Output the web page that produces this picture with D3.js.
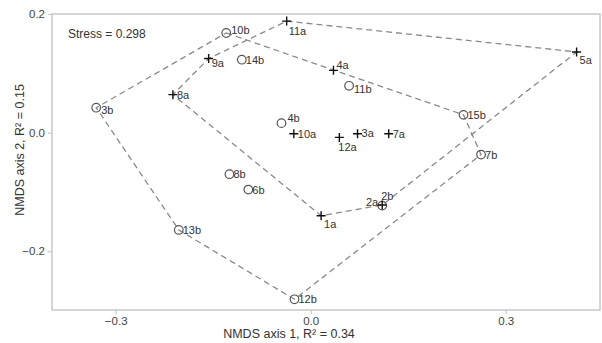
<!DOCTYPE html>
<html>
<head>
<meta charset="utf-8">
<script src="https://cdn.jsdelivr.net/npm/d3@7"></script>
<style>
  body { margin: 0; background: #fff; }
  svg { display: block; font-family: "Liberation Sans", Arial, sans-serif; }
</style>
</head>
<body>
<svg id="chart" width="602" height="343"></svg>
<script>
// ---- data ----
const sites   = ["1a","2a","3a","4a","5a","7a","8a","9a","10a","11a","12a",
                 "2b","3b","4b","6b","7b","8b","10b","11b","12b","13b","14b","15b"];
const axis1   = [0.016,0.110,0.072,0.035,0.409,0.120,-0.212,-0.157,-0.026,-0.037,0.044,
                 0.110,-0.330,-0.045,-0.096,0.262,-0.125,-0.130,0.059,-0.025,-0.203,-0.106,0.235];
const axis2   = [-0.140,-0.122,-0.002,0.105,0.136,-0.002,0.064,0.125,-0.002,0.188,-0.008,
                 -0.123,0.042,0.016,-0.096,-0.037,-0.070,0.168,0.079,-0.281,-0.164,0.123,0.030];
const group   = ["a","a","a","a","a","a","a","a","a","a","a",
                 "b","b","b","b","b","b","b","b","b","b","b","b"];
const hullA   = ["11a","5a","2a","1a","8a","9a"];
const hullB   = ["10b","15b","7b","12b","13b","3b"];
const xTicks  = [-0.3, 0.0, 0.3];
const yTicks  = [-0.2, 0.0, 0.2];
const stressText = "Stress = 0.298";
const xTitle = "NMDS axis 1, R² = 0.34";
const yTitle = "NMDS axis 2, R² = 0.15";

// label placement nudges (style only)
const labelNudge = {
  "11a":[2,10], "5a":[3,8], "9a":[3,5], "3b":[5,2.5], "10b":[5,-3], "4b":[6,-5],
  "4a":[3,-5], "11b":[5,3], "12a":[-1,9.5], "3a":[4,-1], "2a":[-4,-3.5,"end"],
  "2b":[-1,-10], "1a":[3,8]
};

// ---- layout ----
const svg = d3.select("#chart");
const L = 52, R = 600, T = 14, B = 310;
const x = d3.scaleLinear().domain([-0.398, 0.445]).range([L, R]);
const y = d3.scaleLinear().domain([0.2, -0.299]).range([T, B]);

const pts = sites.map((s, i) => ({name: s, x: axis1[i], y: axis2[i], g: group[i]}));
const byName = Object.fromEntries(pts.map(p => [p.name, p]));

// frame
svg.append("rect").attr("x", L).attr("y", T).attr("width", R - L).attr("height", B - T)
  .attr("fill", "none").attr("stroke", "#c8c8c8").attr("stroke-width", 1.5);

// axes
const fmt = d3.format(".1f");
const ax = svg.append("g").attr("transform", `translate(0,${B})`)
  .call(d3.axisBottom(x).tickValues(xTicks).tickFormat(fmt).tickSize(4).tickPadding(3));
const ay = svg.append("g").attr("transform", `translate(${L},0)`)
  .call(d3.axisLeft(y).tickValues(yTicks).tickFormat(fmt).tickSize(4).tickPadding(3));
[ax, ay].forEach(g => {
  g.select(".domain").remove();
  g.selectAll("line").attr("stroke", "#c8c8c8").attr("stroke-width", 1.2);
  g.selectAll("text").attr("fill", "#444").style("font-size", "11.5px")
    .style("font-family", "'Liberation Sans', Arial, sans-serif");
});

// hull lines
const line = d3.line().x(d => x(d.x)).y(d => y(d.y));
[hullA, hullB].forEach(h => {
  svg.append("path")
    .attr("d", line(h.map(n => byName[n])) + "Z")
    .attr("fill", "none").attr("stroke", "#8a8a8a").attr("stroke-width", 1.3)
    .attr("stroke-dasharray", "6,4");
});

// points
const circles = pts.filter(p => p.g === "b");
svg.append("g").selectAll("circle").data(circles).join("circle")
  .attr("cx", d => x(d.x)).attr("cy", d => y(d.y)).attr("r", 4.3)
  .attr("fill", "none").attr("stroke", "#555").attr("stroke-width", 1.2);
const pluses = pts.filter(p => p.g === "a");
const ps = 4.5;
svg.append("g").selectAll("path").data(pluses).join("path")
  .attr("d", d => {
    const cx = x(d.x), cy = y(d.y);
    return `M${cx - ps},${cy}H${cx + ps}M${cx},${cy - ps}V${cy + ps}`;
  })
  .attr("stroke", "#111").attr("stroke-width", 1.4).attr("fill", "none");

// labels
svg.append("g").selectAll("text").data(pts).join("text")
  .attr("x", d => x(d.x) + (labelNudge[d.name] ? labelNudge[d.name][0] : 4))
  .attr("y", d => y(d.y) + (labelNudge[d.name] ? labelNudge[d.name][1] : 0))
  .attr("text-anchor", d => (labelNudge[d.name] && labelNudge[d.name][2]) || "start")
  .attr("dominant-baseline", "central")
  .attr("fill", "#333").style("font-size", "11px")
  .text(d => d.name);

// stress annotation
svg.append("text").attr("x", 68).attr("y", 34).attr("dominant-baseline", "central")
  .attr("fill", "#333").style("font-size", "12px").text(stressText);

// axis titles
svg.append("text").attr("x", 289).attr("y", 334).attr("text-anchor", "middle")
  .attr("dominant-baseline", "central").attr("fill", "#333").style("font-size", "12.5px")
  .text(xTitle);
svg.append("text").attr("transform", "translate(20,150) rotate(-90)")
  .attr("text-anchor", "middle").attr("dominant-baseline", "central")
  .attr("fill", "#333").style("font-size", "12.5px").text(yTitle);
</script>
</body>
</html>
